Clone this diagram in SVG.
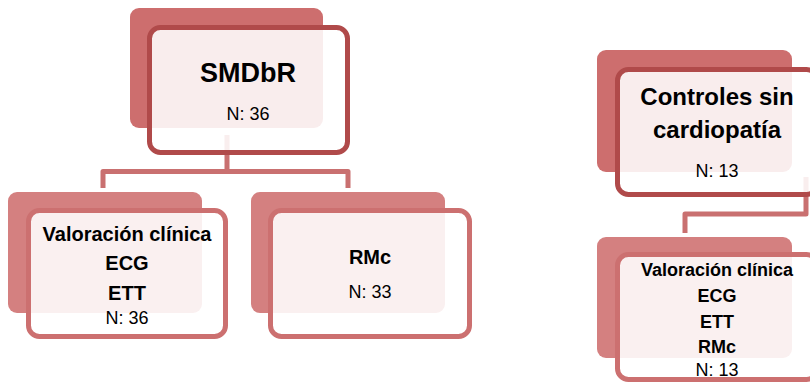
<svg xmlns="http://www.w3.org/2000/svg" width="810" height="384" viewBox="0 0 810 384">
<style>
.bg1{fill:#CD6E6E}
.bg2{fill:#D48080}
.fr1{fill:#FFFFFF;fill-opacity:0.88;stroke:#B04A4A;stroke-width:5}
.fr2{fill:#FFFFFF;fill-opacity:0.88;stroke:#CC7070;stroke-width:5}
.conn{fill:none;stroke:#C97070;stroke-width:5;stroke-linejoin:round}
text{font-family:"Liberation Sans",Arial,sans-serif;fill:#000;text-anchor:middle}
.b{font-weight:bold}
.n{font-size:18px}
</style>
<rect width="810" height="384" fill="#FFFFFF"/>
<g id="connectors">
<path class="conn" d="M227 135 V171.5 M103 188 V171.5 H348 V188"/>
<path class="conn" d="M806 177 V214 H685 V233"/>
</g>
<g id="smdbr">
<rect class="bg1" x="130" y="8" width="193" height="120" rx="9"/>
<rect class="fr1" x="149.5" y="27.5" width="198" height="125" rx="11"/>
<text class="b" x="248" y="82" font-size="27">SMDbR</text>
<text class="n" x="248" y="120">N: 36</text>
</g>
<g id="valoracion">
<rect class="bg2" x="8" y="192" width="194" height="121" rx="9"/>
<rect class="fr2" x="28.5" y="210.5" width="197" height="126" rx="11"/>
<text class="b" x="127" y="241" font-size="20">Valoración clínica</text>
<text class="b" x="127" y="270" font-size="20">ECG</text>
<text class="b" x="127" y="300" font-size="20">ETT</text>
<text class="n" x="127" y="324">N: 36</text>
</g>
<g id="rmc">
<rect class="bg2" x="251" y="192" width="194" height="121" rx="9"/>
<rect class="fr2" x="270.5" y="210.5" width="199" height="126" rx="11"/>
<text class="b" x="370" y="264" font-size="20">RMc</text>
<text class="n" x="370" y="298">N: 33</text>
</g>
<g id="controles">
<rect class="bg1" x="597" y="50" width="195" height="122" rx="9"/>
<rect class="fr1" x="617.5" y="69.5" width="200" height="125" rx="11"/>
<text class="b" x="717" y="105" font-size="24">Controles sin</text>
<text class="b" x="717" y="138" font-size="24">cardiopatía</text>
<text class="n" x="717" y="177">N: 13</text>
</g>
<g id="controles-pruebas">
<rect class="bg2" x="597" y="237" width="195" height="121" rx="9"/>
<rect class="fr2" x="617.5" y="254.5" width="200" height="125" rx="11"/>
<text class="b" x="717" y="276" font-size="18">Valoración clínica</text>
<text class="b" x="717" y="302" font-size="18">ECG</text>
<text class="b" x="717" y="328" font-size="18">ETT</text>
<text class="b" x="717" y="353" font-size="18">RMc</text>
<text class="n" x="717" y="376">N: 13</text>
</g>
</svg>
